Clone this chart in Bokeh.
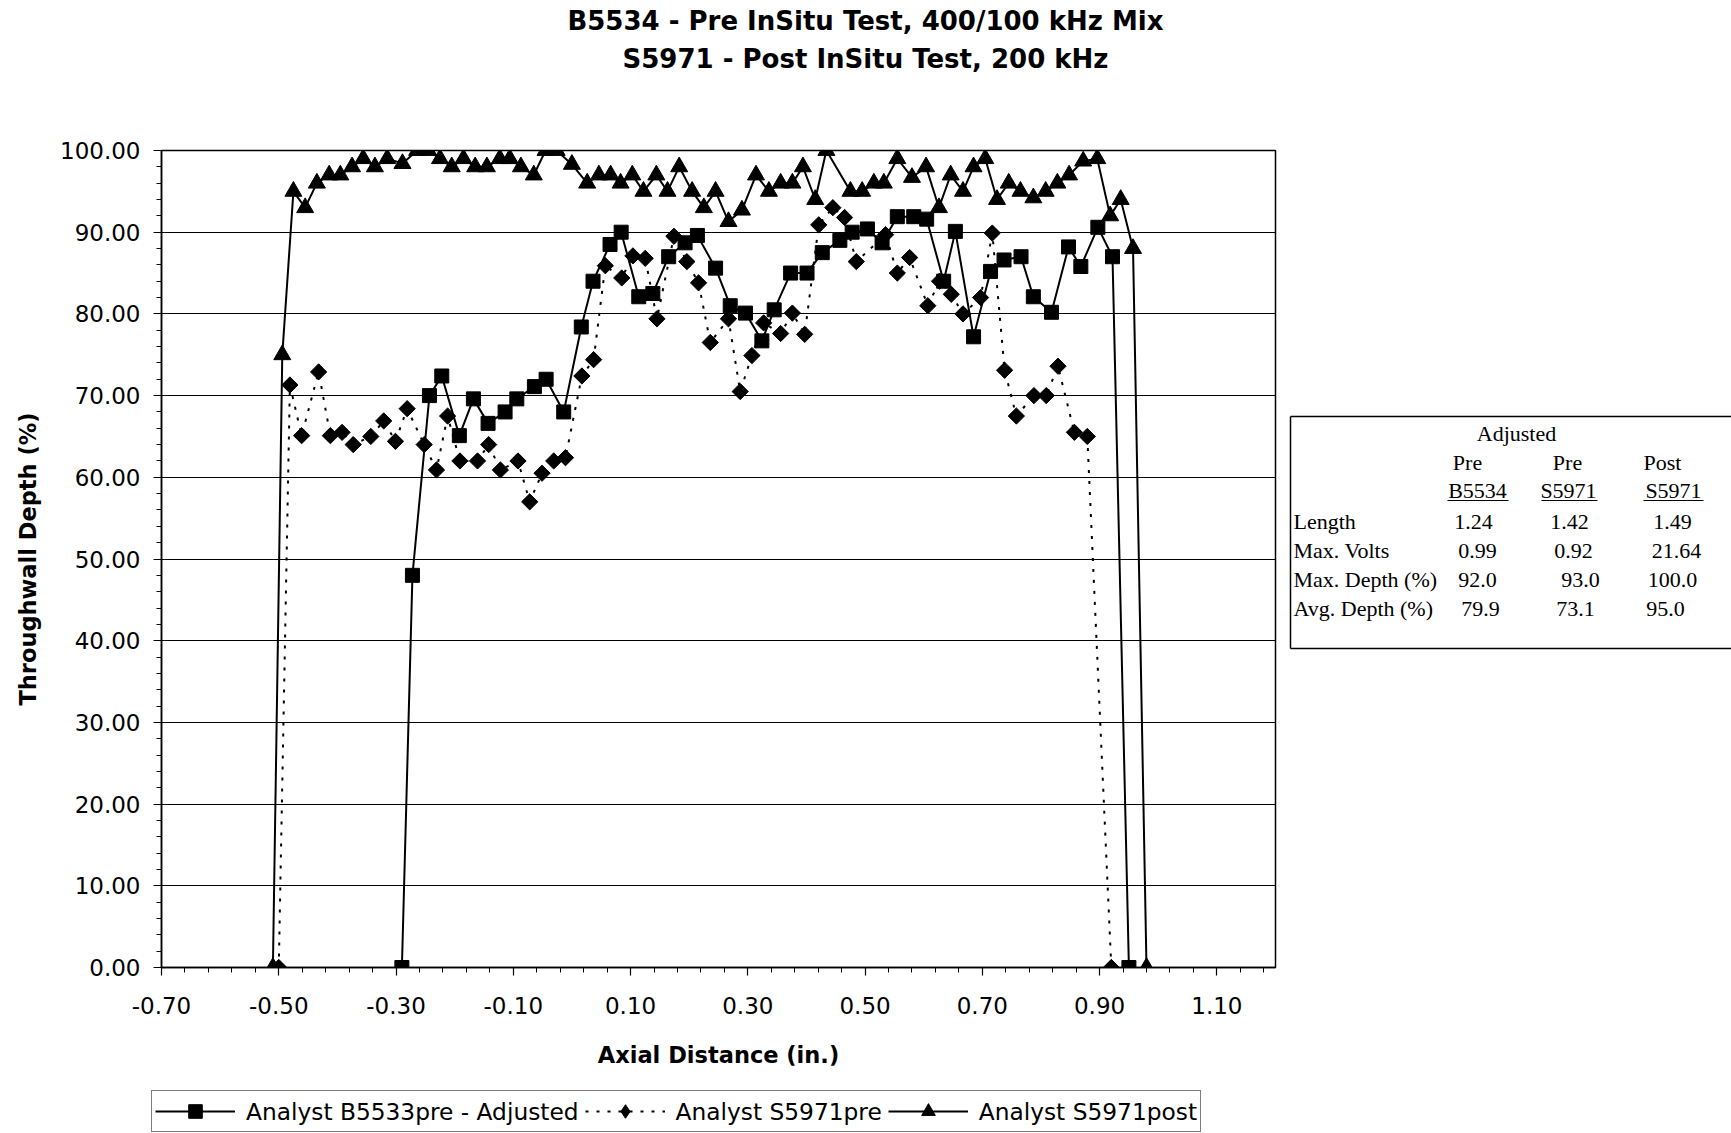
from bokeh.plotting import figure
from bokeh.models import (FixedTicker, NumeralTickFormatter, Range1d, Legend, LegendItem)
from bokeh.layouts import row, column
from bokeh.core.properties import value
from bokeh.embed import file_html
from bokeh.resources import INLINE
import math

# ---------------- data ----------------
b5534_x = [-0.29, -0.272, -0.243, -0.222, -0.192, -0.168, -0.143, -0.114, -0.094, -0.064, -0.044,
           -0.014, 0.016, 0.036, 0.065, 0.084, 0.114, 0.138, 0.165, 0.193, 0.214, 0.245, 0.270,
           0.296, 0.324, 0.345, 0.373, 0.401, 0.427, 0.457, 0.478, 0.504, 0.529, 0.555, 0.583,
           0.605, 0.634, 0.654, 0.685, 0.714, 0.737, 0.766, 0.787, 0.818, 0.847, 0.868, 0.897,
           0.922, 0.95]
b5534_y = [0, 48, 70, 72.4, 65.1, 69.6, 66.6, 68, 69.6, 71.1, 72, 68, 78.4, 84, 88.5, 90, 82.1,
           82.5, 87, 88.7, 89.6, 85.6, 81, 80.1, 76.7, 80.5, 85, 85, 87.5, 89, 90, 90.4, 88.7,
           91.9, 91.9, 91.6, 84, 90.1, 77.2, 85.2, 86.6, 87, 82.1, 80.2, 88.2, 85.8, 90.6, 87, 0]

s5971pre_x = [-0.50, -0.481, -0.461, -0.432, -0.412, -0.392, -0.373, -0.343, -0.321, -0.301,
              -0.281, -0.252, -0.231, -0.212, -0.191, -0.161, -0.142, -0.122, -0.092, -0.072,
              -0.051, -0.031, -0.011, 0.017, 0.037, 0.057, 0.085, 0.104, 0.125, 0.145, 0.174,
              0.196, 0.216, 0.236, 0.267, 0.287, 0.307, 0.327, 0.356, 0.376, 0.397, 0.421,
              0.445, 0.465, 0.485, 0.535, 0.555, 0.576, 0.607, 0.627, 0.647, 0.667, 0.697,
              0.717, 0.738, 0.758, 0.788, 0.809, 0.829, 0.857, 0.879, 0.92]
s5971pre_y = [0, 71.3, 65.1, 72.9, 65.1, 65.5, 64.0, 65.0, 66.9, 64.4, 68.4, 64.0, 60.9, 67.5,
              62.0, 62.0, 64.0, 60.9, 62.0, 57.0, 60.5, 62.0, 62.4, 72.4, 74.4, 85.9, 84.4,
              87.1, 86.8, 79.4, 89.5, 86.4, 83.8, 76.5, 79.4, 70.5, 74.9, 78.9, 77.6, 80.1,
              77.5, 90.9, 93.0, 91.8, 86.4, 89.7, 85.0, 86.9, 81.0, 84.0, 82.4, 80.0, 82.0,
              89.9, 73.1, 67.5, 70.0, 70.0, 73.6, 65.5, 65.0, 0]

s5971post_x = [-0.51, -0.494, -0.475, -0.455, -0.435, -0.414, -0.395, -0.375, -0.356, -0.336,
               -0.315, -0.289, -0.264, -0.245, -0.225, -0.205, -0.185, -0.165, -0.145, -0.123,
               -0.106, -0.087, -0.065, -0.045, -0.026, 0.0, 0.026, 0.046, 0.066, 0.083, 0.103,
               0.122, 0.144, 0.163, 0.183, 0.205, 0.225, 0.245, 0.267, 0.290, 0.314, 0.336,
               0.356, 0.376, 0.394, 0.415, 0.434, 0.475, 0.495, 0.515, 0.532, 0.555, 0.580,
               0.604, 0.626, 0.646, 0.667, 0.685, 0.705, 0.725, 0.745, 0.765, 0.787, 0.808,
               0.828, 0.848, 0.872, 0.896, 0.918, 0.936, 0.957, 0.98]
s5971post_y = [0, 75, 95, 93, 96, 97, 97, 98, 99, 98, 99, 98.4, 100, 100, 99, 98, 99, 98, 98, 99,
               99, 98, 97, 100, 100, 98.3, 96, 97, 97, 96, 97, 95, 97, 95, 98, 95, 93, 95, 91.3,
               92.7, 97, 95, 96, 96, 98, 94, 100, 95, 95, 96, 96, 99, 96.7, 98, 93, 97, 95, 98,
               99, 94, 96, 95, 94.2, 95, 96, 97, 98.7, 99, 92, 94, 88, 0]

series_names = ["Analyst B5533pre - Adjusted", "Analyst S5971pre", "Analyst S5971post"]

title_lines = ["B5534 - Pre InSitu Test, 400/100 kHz Mix", "S5971 - Post InSitu Test, 200 kHz"]
x_title = "Axial Distance (in.)"
y_title = "Throughwall Depth (%)"

x_major_ticks = [-0.70, -0.50, -0.30, -0.10, 0.10, 0.30, 0.50, 0.70, 0.90, 1.10]
x_minor_step = 0.04
y_major_ticks = [0, 10, 20, 30, 40, 50, 60, 70, 80, 90, 100]
y_minor_step = 2

table_header_top = "Adjusted"
table_col_heads1 = ["Pre", "Pre", "Post"]
table_col_heads2 = ["B5534", "S5971", "S5971"]
table_row_names = ["Length", "Max. Volts", "Max. Depth (%)", "Avg. Depth (%)"]
table_values = [["1.24", "1.42", "1.49"],
                ["0.99", "0.92", "21.64"],
                ["92.0", "93.0", "100.0"],
                ["79.9", "73.1", "95.0"]]

# ---------------- layout constants (canvas px) ----------------
W, H = 1731, 1133
TOP_H = 100          # title strip
BOT_H = 45           # legend strip
MID_H = H - TOP_H - BOT_H
W1 = 1283            # chart part width
FL, FR, FT, FB = 161, 1275, 150, 967   # frame edges in page px

SANS = "DejaVu Sans"
SERIF = "Liberation Serif"


def strip(width, height, x0, x1, y0, y1):
    f = figure(width=width, height=height, output_backend="svg", toolbar_location=None,
               title=None, x_range=Range1d(x0, x1), y_range=Range1d(y1, y0),
               x_axis_type=None, y_axis_type=None, min_border_left=0, min_border_right=0,
               min_border_top=0, min_border_bottom=0)
    f.grid.visible = False
    f.outline_line_color = None
    f.background_fill_color = "white"
    f.border_fill_color = "white"
    f.frame_align = False
    return f


# ---------------- main chart ----------------
p = figure(width=W1, height=MID_H, output_backend="svg", toolbar_location=None, title=None,
           x_range=Range1d(-0.7, 1.2), y_range=Range1d(0, 100),
           min_border_left=FL, min_border_right=W1 - FR, min_border_top=FT - TOP_H,
           min_border_bottom=TOP_H + MID_H - FB)
p.frame_align = False
p.background_fill_color = "white"
p.border_fill_color = "white"
p.outline_line_color = "black"
p.outline_line_width = 1.5

xminor = []
v = -0.70
while v <= 1.2 + 1e-9:
    xminor.append(round(v, 2))
    v += x_minor_step
p.xaxis.ticker = FixedTicker(ticks=x_major_ticks, minor_ticks=xminor)
p.yaxis.ticker = FixedTicker(ticks=y_major_ticks, minor_ticks=list(range(0, 101, y_minor_step)))
for ax in (p.xaxis, p.yaxis):
    ax.formatter = NumeralTickFormatter(format="0.00")
    ax.axis_line_color = "black"
    ax.axis_line_width = 1.5
    ax.major_tick_line_color = "black"
    ax.minor_tick_line_color = "black"
    ax.major_tick_line_width = 1.2
    ax.minor_tick_line_width = 1
    ax.major_tick_in = 0
    ax.minor_tick_in = 0
    ax.major_tick_out = 8
    ax.minor_tick_out = 5
    ax.major_label_text_font = SANS
    ax.major_label_text_font_size = "23px"
    ax.major_label_text_color = "black"
    ax.axis_label_text_font = SANS
    ax.axis_label_text_font_style = "bold"
    ax.axis_label_text_font_size = "22.5px"
    ax.axis_label_text_color = "black"
p.xaxis.axis_label = x_title
p.yaxis.axis_label = y_title
p.xaxis.major_label_standoff = 21
p.yaxis.major_label_standoff = 13
p.xaxis.axis_label_standoff = 25
p.yaxis.axis_label_standoff = 16

p.xgrid.grid_line_color = None
p.ygrid.grid_line_color = "black"
p.ygrid.grid_line_width = 1.2

STYLES = [dict(line=dict(line_color="black", line_width=2),
               marker=dict(marker="square", size=14, fill_color="black", line_color="black")),
          dict(line=dict(line_color="black", line_width=2, line_dash="3 8"),
               marker=dict(marker="square", angle=math.pi / 4, size=11.5, fill_color="black",
                           line_color="black")),
          dict(line=dict(line_color="black", line_width=2),
               marker=dict(marker="triangle", size=17, fill_color="black", line_color="black"))]
LEGEND_MARKERS = ["square", "diamond", "triangle"]

SERIES = [(b5534_x, b5534_y), (s5971pre_x, s5971pre_y), (s5971post_x, s5971post_y)]
for (xs, ys), st in zip(SERIES, STYLES):
    p.line(xs, ys, **st["line"])
    p.scatter(xs, ys, **st["marker"])

# ---------------- title strip ----------------
ttl = strip(W, TOP_H, 0, W, 0, TOP_H)
ttl.text(x=[865, 865], y=[20, 58], text=title_lines, text_align="center",
         text_baseline="middle", text_font=value(SANS), text_font_style="bold",
         text_font_size=value("26px"), text_color="black")

# ---------------- statistics table ----------------
t = strip(W - W1, MID_H, W1, W, TOP_H, TOP_H + MID_H)
t.segment(x0=[1290, 1290, 1290], y0=[416, 648, 416], x1=[W + 5, W + 5, 1290], y1=[416, 648, 648],
          line_color="black", line_width=1.5)
t.segment(x0=[1447, 1541, 1643], y0=[500, 500, 500], x1=[1508, 1597, 1703], y1=[500, 500, 500],
          line_color="black", line_width=1.2)

tx, ty, tt, ta = [], [], [], []


def cell(text, X, Y, align="center"):
    tx.append(X)
    ty.append(Y)
    tt.append(text)
    ta.append(align)


cell(table_header_top, 1516, 433)
for s, X in zip(table_col_heads1, [1467, 1567, 1662]):
    cell(s, X, 462)
for s, X in zip(table_col_heads2, [1477, 1568, 1673]):
    cell(s, X, 490)
row_y = [521, 550, 579, 608]
val_x = [[1473, 1569, 1672], [1477, 1573, 1676], [1477, 1580, 1672], [1480, 1575, 1665]]
for name, Y, vals, xs in zip(table_row_names, row_y, table_values, val_x):
    cell(name, 1293, Y, "left")
    for s, X in zip(vals, xs):
        cell(s, X, Y)
t.text(x=tx, y=ty, text=tt, text_align=ta, text_baseline="middle", text_font=value(SERIF),
       text_font_size=value("22px"), text_color="black")

# ---------------- legend strip ----------------
# the legend renderers carry the series data; it lies outside this strip's ranges, so only
# the legend glyphs are visible here
lg = strip(W, BOT_H, 0, W, H - BOT_H, H)
items = []
for name, (xs, ys), st, mk in zip(series_names, SERIES, STYLES, LEGEND_MARKERS):
    rl = lg.line(xs, ys, **st["line"])
    rm = lg.scatter(xs, ys, marker=mk, size=14, fill_color="black", line_color="black")
    items.append(LegendItem(label=name, renderers=[rl, rm]))
legend = Legend(items=items, orientation="horizontal", location=(151, 1))
legend.margin = 0
legend.padding = 3
legend.spacing = 6
legend.glyph_width = 80
legend.glyph_height = 34
legend.label_standoff = 11
legend.label_text_font = SANS
legend.label_text_font_size = "23.3px"
legend.label_text_color = "black"
legend.border_line_color = "black"
legend.border_line_width = 1.5
legend.background_fill_color = "white"
legend.background_fill_alpha = 1
lg.add_layout(legend, "center")

layout = column(ttl, row(p, t, spacing=0), lg, spacing=0)
open("out.html", "w").write(file_html(layout, INLINE))
